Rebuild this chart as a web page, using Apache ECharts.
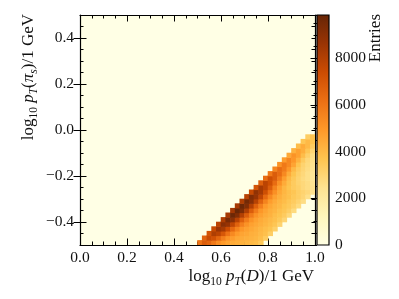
<!DOCTYPE html>
<html><head><meta charset="utf-8">
<script src="https://cdn.jsdelivr.net/npm/echarts@6/dist/echarts.min.js"></script>
<style>html,body{margin:0;padding:0;background:#fff}#c{width:399px;height:299px}</style>
</head><body><div id="c"></div>
<script>
// ---- data (2D histogram, bin width 0.02 in both axes) ----
const BIN = 0.02;
const rowYLow = [-0.50,-0.48,-0.46,-0.44,-0.42,-0.40,-0.38,-0.36,-0.34,-0.32,-0.30,-0.28,
                 -0.26,-0.24,-0.22,-0.20,-0.18,-0.16,-0.14,-0.12,-0.10,-0.08,-0.06,-0.04];
const rowXStart = [0.50,0.52,0.54,0.56,0.58,0.60,0.62,0.64,0.66,0.68,0.70,0.72,
                   0.74,0.76,0.78,0.80,0.82,0.84,0.86,0.88,0.90,0.92,0.94,0.96];
const rowCounts = [
  [6000,6800,6500,5900,5300,4900,4600,4400,4300,4200,4100,4000,3900,3500],
  [6600,7500,7200,6500,5700,5100,4800,4500,4400,4300,4200,4100,3900,3400],
  [7100,8100,7800,7000,6100,5400,4900,4600,4500,4300,4200,4000,3800,3300],
  [7500,8600,8300,7400,6400,5600,5000,4700,4500,4300,4100,3900,3700,3200],
  [7800,9000,8700,7700,6600,5700,5100,4700,4500,4300,4100,3900,3600,3100],
  [8100,9400,9000,7900,6700,5800,5100,4700,4400,4200,4000,3800,3500,3000],
  [8300,9700,9200,8000,6800,5800,5100,4700,4400,4200,3900,3700,3400,2900],
  [8400,9800,9300,8100,6800,5800,5000,4600,4300,4100,3800,3600,3300,2800],
  [8300,9700,9200,8000,6700,5700,4900,4500,4200,4000,3700,3500,3200,2800],
  [8100,9500,9000,7900,6600,5600,4800,4400,4100,3900,3600,3400,3100,2700],
  [7900,9200,8700,7700,6400,5400,4700,4300,4000,3800,3500,3300,3000,2600],
  [7500,8800,8300,7300,6100,5200,4500,4100,3800,3600,3300,3100,2900,2500],
  [7100,8300,7800,6800,5600,4700,4100,3700,3400,3200,2900,2700,2500],
  [6700,7800,7300,6300,5200,4400,3800,3400,3100,2900,2700,2400],
  [6300,7300,6800,5800,4800,4000,3500,3100,2800,2600,2300],
  [5900,6800,6300,5400,4400,3700,3200,2900,2600,2300],
  [5500,6300,5800,5000,4000,3400,3000,2700,2400],
  [5100,5900,5400,4600,3700,3100,2800,2500],
  [4800,5500,5000,4200,3400,2900,2600],
  [4500,5100,4700,3900,3200,2700],
  [4200,4700,4300,3600,3000],
  [3900,4400,4000,3400],
  [3600,4000,3700],
  [3300,3700]
];
const xTicks = [0.0,0.2,0.4,0.6,0.8,1.0];
const yTicks = [-0.4,-0.2,0.0,0.2,0.4];
const cbTicks = [0,2000,4000,6000,8000];
const cbMax = 9850;
const xRange = [0,1];
const yRange = [-0.5,0.5];

// ---- style ----
const YlOrBr = ['#ffffe5','#fff7bc','#fee391','#fec44f','#fe9929','#ec7014','#cc4c02','#993404','#662506'];
const FONT = 'Liberation Serif';
const FS = 15.5;
const TFS = 17;
const MAJ = 6.5, MIN = 3.5, LW = 1.2;

const cells = [];
rowCounts.forEach((row, j) => {
  row.forEach((v, k) => {
    cells.push([Math.round((rowXStart[j] + k*BIN)*1000)/1000, rowYLow[j], v]);
  });
});

function fmt(v){ const s = Math.abs(v).toFixed(1); return (v < -1e-9 ? '\u2212' : '') + s; }

const chart = echarts.init(document.getElementById('c'), null, {renderer:'canvas'});
const lineStyle = {color:'#000', width:LW};
const G = {left:80, top:15, width:235, height:230};
const tickLS = {color:'#000', width:1};

function richTitle(){
  return {
    n:{fontFamily:FONT, fontSize:TFS, lineHeight:22, verticalAlign:'middle', fill:'#111'},
    i:{fontFamily:FONT, fontSize:TFS, fontStyle:'italic', lineHeight:22, verticalAlign:'middle', fill:'#111'},
    s:{fontFamily:FONT, fontSize:11.5, lineHeight:12, verticalAlign:'bottom', fill:'#111'},
    si:{fontFamily:FONT, fontSize:11.5, fontStyle:'italic', lineHeight:12, verticalAlign:'bottom', fill:'#111'}
  };
}

const option = {
  animation:false,
  backgroundColor:'#fff',
  grid:[
    Object.assign({show:true, backgroundColor:YlOrBr[0], borderWidth:0}, G),
    {left:317, top:15, width:12, height:230, show:false}
  ],
  visualMap:{show:false, type:'continuous', min:0, max:cbMax, dimension:2, seriesIndex:0,
    inRange:{color:YlOrBr}},
  xAxis:[
    {gridIndex:0, type:'value', position:'bottom', min:xRange[0], max:xRange[1], interval:0.2,
     axisLine:{show:true, onZero:false, lineStyle}, splitLine:{show:false},
     axisTick:{show:true, inside:true, length:MAJ, lineStyle:tickLS},
     minorTick:{show:true, splitNumber:4, length:MIN, lineStyle:tickLS},
     axisLabel:{show:true, margin:5, color:'#111', fontFamily:FONT, fontSize:FS, formatter:fmt}},
    {gridIndex:0, type:'value', position:'top', min:xRange[0], max:xRange[1], interval:0.2,
     axisLine:{show:true, onZero:false, lineStyle}, splitLine:{show:false},
     axisTick:{show:true, inside:true, length:MAJ, lineStyle:tickLS},
     minorTick:{show:true, splitNumber:4, length:MIN, lineStyle:tickLS},
     axisLabel:{show:false}},
    {gridIndex:1, type:'value', min:0, max:1, show:false}
  ],
  yAxis:[
    {gridIndex:0, type:'value', position:'left', min:yRange[0], max:yRange[1], interval:0.05,
     axisLine:{show:true, onZero:false, lineStyle}, splitLine:{show:false},
     axisTick:{show:true, inside:true, length:MIN, lineStyle:tickLS},
     axisLabel:{show:false}},
    {gridIndex:0, type:'value', position:'left', min:yRange[0], max:yRange[1],
     axisLine:{show:false}, splitLine:{show:false},
     axisTick:{show:true, inside:true, length:MAJ, customValues:yTicks, lineStyle:tickLS},
     axisLabel:{show:true, margin:6, customValues:yTicks, color:'#111', fontFamily:FONT, fontSize:FS, formatter:fmt}},
    {gridIndex:0, type:'value', position:'right', min:yRange[0], max:yRange[1], interval:0.05,
     axisLine:{show:true, onZero:false, lineStyle}, splitLine:{show:false},
     axisTick:{show:true, inside:true, length:MIN, lineStyle:tickLS},
     axisLabel:{show:false}},
    {gridIndex:0, type:'value', position:'right', min:yRange[0], max:yRange[1],
     axisLine:{show:false}, splitLine:{show:false},
     axisTick:{show:true, inside:true, length:MAJ, customValues:yTicks, lineStyle:tickLS},
     axisLabel:{show:false}},
    {gridIndex:1, type:'value', position:'right', min:0, max:cbMax, interval:2000,
     axisLine:{show:false}, splitLine:{show:false},
     axisTick:{show:true, inside:true, length:MAJ, lineStyle:tickLS},
     minorTick:{show:true, splitNumber:4, length:MIN, lineStyle:tickLS},
     axisLabel:{show:true, margin:6, showMaxLabel:false, color:'#111', fontFamily:FONT, fontSize:FS,
       formatter:(v)=>String(Math.round(v))}}
  ],
  series:[
    {type:'custom', xAxisIndex:0, yAxisIndex:0, dimensions:['x','y','v'], encode:{x:0, y:1},
     data:cells, clip:true, z:1,
     renderItem(params, api){
       const x0 = api.value(0), y0 = api.value(1);
       const p0 = api.coord([x0, y0 + BIN]);
       const p1 = api.coord([x0 + BIN, y0]);
       return {type:'rect', shape:{x:p0[0]-0.3, y:p0[1]-0.3, width:p1[0]-p0[0]+0.6, height:p1[1]-p0[1]+0.6},
               style:{fill:api.visual('color')}};
     }},
    {type:'custom', xAxisIndex:2, yAxisIndex:4, data:[[0,0]], z:2,
     renderItem(params, api){
       const p0 = api.coord([0, cbMax]);
       const p1 = api.coord([1, 0]);
       const stops = YlOrBr.map((c,i)=>({offset:i/(YlOrBr.length-1), color:c}));
       return {type:'rect', shape:{x:p0[0], y:p0[1], width:p1[0]-p0[0], height:p1[1]-p0[1]},
               style:{fill:new echarts.graphic.LinearGradient(0,1,0,0,stops), stroke:'#000', lineWidth:LW}};
     }}
  ],
  graphic:[
    {type:'text', x:314, y:277, z:10,
     style:{text:'{n|log}{s|10}{n| }{i|p}{si|T}{n|(}{i|D}{n|)/1 GeV}', align:'right', verticalAlign:'middle',
       rich:richTitle()}},
    {type:'text', x:29, y:14, rotation:Math.PI/2, z:10,
     style:{text:'{n|log}{s|10}{n| }{i|p}{si|T}{n|(}{i|π}{si|s}{n|)/1 GeV}', align:'right', verticalAlign:'middle',
       rich:richTitle()}},
    {type:'text', x:376, y:14, rotation:Math.PI/2, z:10,
     style:{text:'Entries', align:'right', verticalAlign:'middle', fontFamily:FONT, fontSize:TFS, fill:'#111'}}
  ]
};
chart.setOption(option);
</script></body></html>
